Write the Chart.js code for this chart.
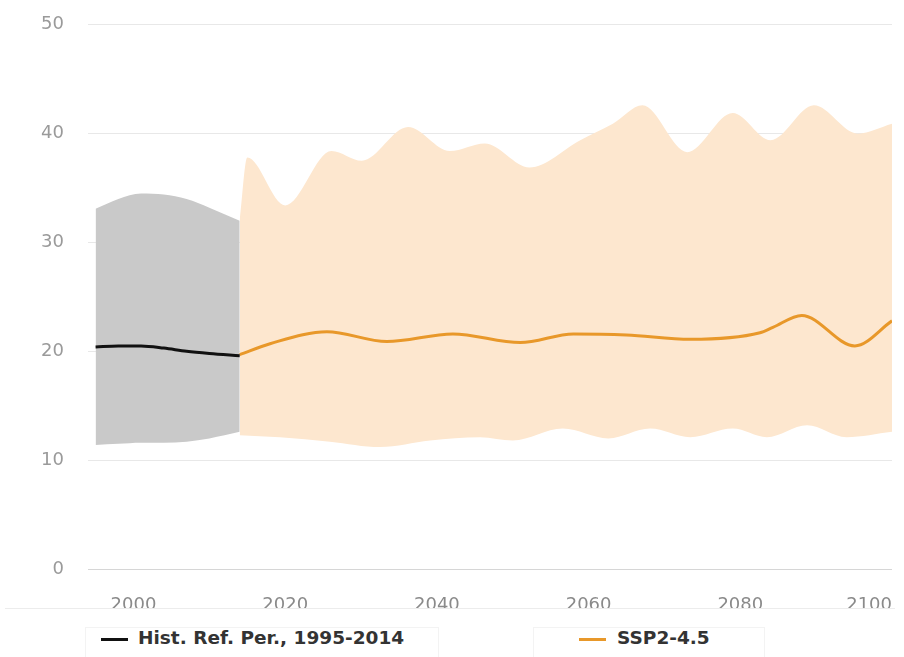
<!DOCTYPE html>
<html>
<head>
<meta charset="utf-8">
<script src="https://cdn.jsdelivr.net/npm/chart.js@4/dist/chart.umd.min.js"></script>
<style>
  html, body { margin: 0; padding: 0; background: #fff; overflow: hidden; }
  body { width: 904px; height: 657px; position: relative; font-family: "DejaVu Sans", sans-serif; }
  #wrap { position: absolute; left: 0; top: -10px; width: 910px; height: 618px; }
  .sep { position: absolute; left: 5px; top: 608px; width: 890px; height: 0; border-top: 1px solid #ececec; }
  .item { position: absolute; top: 627px; height: 40px; border: 1px solid #f3f3f3; border-bottom: none; }
  .sw { position: absolute; top: 10px; width: 27px; height: 3px; }
  .lbl { position: absolute; top: -1px; font-weight: bold; font-size: 18.5px; color: #333; white-space: nowrap; }
</style>
</head>
<body>
<div id="wrap"><canvas id="chart"></canvas></div>
<div class="sep"></div>
<div class="item" style="left:85px;width:352px;">
  <div class="sw" style="left:15px;background:#111;"></div>
  <div class="lbl" style="left:52px;" id="lblHist"></div>
</div>
<div class="item" style="left:533px;width:230px;">
  <div class="sw" style="left:45px;background:#e8982a;"></div>
  <div class="lbl" style="left:83px;" id="lblSsp"></div>
</div>
<script>
const histLabel = 'Hist. Ref. Per., 1995-2014';
const sspLabel = 'SSP2-4.5';

const histYears = [1995, 1998, 2001, 2004, 2007, 2010, 2014];
const histMean  = [20.4, 20.5, 20.5, 20.3, 20.0, 19.8, 19.6];
const histUpper = [33.1, 34.0, 34.5, 34.4, 34.0, 33.2, 32.0];
const histLower = [11.4, 11.5, 11.6, 11.6, 11.7, 12.0, 12.6];

const sspMeanYears = [2014, 2018, 2025.5, 2033.4, 2042.1, 2051, 2058, 2065, 2073.4, 2082.6, 2084.3, 2088.1, 2095.1, 2100];
const sspMean      = [19.7, 20.7, 21.8, 20.9, 21.6, 20.8, 21.6, 21.5, 21.1, 21.7, 22.2, 23.3, 20.5, 22.8];

const sspUpperYears = [2014, 2015, 2020, 2026.1, 2030.1, 2036.2, 2041.7, 2046.3, 2052.2, 2058.9, 2063.2, 2067.1, 2073, 2079, 2084, 2089.7, 2095.5, 2100];
const sspUpper      = [32.0, 37.8, 33.4, 38.4, 37.5, 40.6, 38.4, 39.1, 36.9, 39.4, 40.9, 42.6, 38.3, 41.9, 39.4, 42.6, 40.0, 40.9];

const sspLowerYears = [2014, 2019.3, 2025.9, 2032.5, 2039.1, 2045.7, 2050, 2056.6, 2062.6, 2068.1, 2073.4, 2079, 2083.5, 2088.8, 2094, 2100];
const sspLower      = [12.3, 12.1, 11.7, 11.2, 11.8, 12.1, 11.8, 12.9, 12.0, 12.9, 12.1, 12.9, 12.1, 13.2, 12.1, 12.6];

const yTicks = [0, 10, 20, 30, 40, 50];
const xTicks = [2000, 2020, 2040, 2060, 2080, 2100];

document.getElementById('lblHist').textContent = histLabel;
document.getElementById('lblSsp').textContent = sspLabel;

const pts = (xs, ys) => xs.map((x, i) => ({ x, y: ys[i] }));

const lineStyle = { pointRadius: 0, cubicInterpolationMode: 'monotone' };

new Chart(document.getElementById('chart'), {
  type: 'line',
  data: {
    datasets: [
      { label: histLabel, data: pts(histYears, histMean), borderColor: '#111', borderWidth: 3, fill: false, ...lineStyle },
      { label: sspLabel, data: pts(sspMeanYears, sspMean), borderColor: '#e8982a', borderWidth: 3, fill: false, ...lineStyle },
      { label: 'hist upper', data: pts(histYears, histUpper), borderWidth: 0, borderColor: 'rgba(0,0,0,0)',
        fill: { target: 3, above: '#c9c9c9', below: '#c9c9c9' }, ...lineStyle },
      { label: 'hist lower', data: pts(histYears, histLower), borderWidth: 0, borderColor: 'rgba(0,0,0,0)', fill: false, ...lineStyle },
      { label: 'ssp upper', data: pts(sspUpperYears, sspUpper), borderWidth: 0, borderColor: 'rgba(0,0,0,0)',
        fill: { target: 5, above: '#fde7cf', below: '#fde7cf' }, ...lineStyle },
      { label: 'ssp lower', data: pts(sspLowerYears, sspLower), borderWidth: 0, borderColor: 'rgba(0,0,0,0)', fill: false, ...lineStyle }
    ]
  },
  options: {
    responsive: true,
    maintainAspectRatio: false,
    animation: false,
    layout: { padding: { top: 14, right: 6, left: 0, bottom: 0 } },
    plugins: { legend: { display: false }, tooltip: { enabled: false } },
    scales: {
      x: {
        type: 'linear',
        min: 1994,
        max: 2100,
        grid: { display: false },
        border: { display: false },
        afterBuildTicks: (scale) => {
          scale.ticks = [{ value: 1994 }].concat(xTicks.map((v) => ({ value: v })));
        },
        afterFit: (scale) => { scale.height = 39; },
        ticks: {
          autoSkip: false,
          maxRotation: 0,
          align: 'inner',
          padding: 18,
          color: '#8a8a8a',
          font: { family: 'DejaVu Sans', size: 18 },
          callback: (v) => (xTicks.includes(v) ? String(v) : '')
        }
      },
      y: {
        min: 0,
        max: 50,
        afterBuildTicks: (scale) => { scale.ticks = yTicks.map((v) => ({ value: v })); },
        afterFit: (scale) => { scale.width = 88; },
        grid: {
          drawTicks: false,
          color: (ctx) => (ctx.tick && ctx.tick.value === 0 ? '#d6d6d6' : '#e8e8e8'),
          lineWidth: 1
        },
        border: { display: false },
        ticks: {
          padding: 24,
          color: '#9a9a9a',
          font: { family: 'DejaVu Sans', size: 18 }
        }
      }
    }
  }
});
</script>
</body>
</html>
